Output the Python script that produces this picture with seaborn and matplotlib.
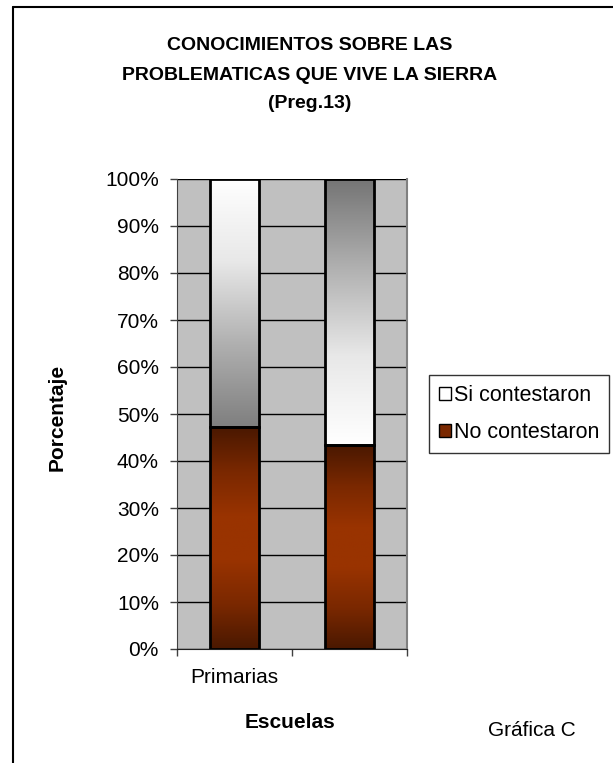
import numpy as np
import pandas as pd
import seaborn as sns
import matplotlib.pyplot as plt
from matplotlib.colors import LinearSegmentedColormap
from matplotlib.patches import Patch
from matplotlib.lines import Line2D
from matplotlib.ticker import PercentFormatter

# data
escuelas = ["Primarias", " "]
no_contestaron = [47.2, 43.3]
si_contestaron = [52.8, 56.7]
yticks = list(range(0, 101, 10))
titulo = ["CONOCIMIENTOS SOBRE LAS", "PROBLEMATICAS QUE VIVE LA SIERRA", "(Preg.13)"]

sns.set_style("ticks")
plt.rcParams["font.family"] = ["Liberation Sans", "DejaVu Sans"]
plt.rcParams["text.color"] = "black"
plt.rcParams["xtick.labelcolor"] = "black"
plt.rcParams["ytick.labelcolor"] = "black"

df = pd.DataFrame({"escuela": escuelas, "no": no_contestaron, "si": si_contestaron})
df["total"] = df["no"] + df["si"]

W, H = 613, 763
fig = plt.figure(figsize=(W / 100, H / 100), dpi=100)
ax = fig.add_axes([177 / W, 1 - 649 / H, 230 / W, 470 / H])
ax.set_facecolor("#C0C0C0")

sns.barplot(data=df, x="escuela", y="total", width=0.42, color="white",
            edgecolor="black", linewidth=2, errorbar=None, ax=ax, zorder=3)
sns.barplot(data=df, x="escuela", y="no", width=0.42, color="#993300",
            edgecolor="black", linewidth=2, errorbar=None, ax=ax, zorder=3)

si_bars = ax.patches[:2]
no_bars = ax.patches[2:4]

grad = np.linspace(0, 1, 256).reshape(-1, 1)
si_cmaps = [LinearSegmentedColormap.from_list("si1", ["#7F7F7F", "#B0B0B0", "#E8E8E8", "#FFFFFF"]),
            LinearSegmentedColormap.from_list("si2", ["#FFFFFF", "#E8E8E8", "#B0B0B0", "#747474"])]
no_cmap = LinearSegmentedColormap.from_list("no", ["#4A1800", "#7A2800", "#993300", "#993300", "#7A2800", "#4A1800"])

for i, p in enumerate(si_bars):
    p.set_y(df["no"][i])
    p.set_height(df["si"][i])
for bars, cmaps in [(si_bars, si_cmaps), (no_bars, [no_cmap, no_cmap])]:
    for p, cm in zip(bars, cmaps):
        x0, y0, w, h = p.get_x(), p.get_y(), p.get_width(), p.get_height()
        im = ax.imshow(grad, extent=[x0, x0 + w, y0, y0 + h], origin="lower",
                       aspect="auto", cmap=cm, zorder=2.5)
        im.set_clip_path(p)
        p.set_facecolor("none")
        p.set_zorder(4)

ax.set_xlim(-0.5, 1.5)
ax.set_ylim(0, 100)
ax.set_yticks(yticks)
ax.yaxis.set_major_formatter(PercentFormatter(decimals=0))
ax.set_xticks([-0.5, 0.5, 1.5], labels=[])
ax.set_xticks([0, 1], labels=escuelas, minor=True)
ax.tick_params(axis="x", which="minor", length=0, pad=14, labelsize=15)
ax.tick_params(axis="x", which="major", length=5, width=1, color="#404040")
ax.tick_params(axis="y", length=5, width=1, color="#404040", pad=8, labelsize=15)
ax.yaxis.grid(True, color="black", linewidth=1)
ax.set_axisbelow(True)
ax.set_xlabel("")
ax.set_ylabel("")
ax.spines["top"].set_visible(False)
ax.spines["right"].set_color("#808080")
ax.spines["right"].set_linewidth(1.5)
ax.spines["left"].set_color("#404040")
ax.spines["bottom"].set_color("#202020")

for line, yy in zip(titulo, [45, 75, 104]):
    fig.text(310 / W, 1 - yy / H, line, ha="center", va="center",
             fontsize=14, fontweight="bold")
fig.text(57 / W, 1 - 417 / H, "Porcentaje", rotation=90, ha="center", va="center",
         fontsize=15, fontweight="bold")
fig.text(290 / W, 1 - 722 / H, "Escuelas", ha="center", va="center",
         fontsize=15, fontweight="bold")
fig.text(532 / W, 1 - 730 / H, "Gráfica C", ha="center", va="center", fontsize=15)

handles = [Patch(facecolor="white", edgecolor="black", label="Si contestaron"),
           Patch(facecolor="#7A2800", edgecolor="black", label="No contestaron")]
leg = fig.legend(handles=handles, loc="upper left", bbox_to_anchor=(429 / W, 1 - 375 / H),
                 fontsize=15.5, frameon=True, fancybox=False, edgecolor="black",
                 handlelength=0.55, handleheight=0.55, handletextpad=0.15,
                 labelspacing=0.75, borderpad=0.45, borderaxespad=0)
leg.get_frame().set_linewidth(1)

fig.add_artist(Line2D([13 / W, 13 / W], [0, 1 - 7 / H], color="black", lw=1.5))
fig.add_artist(Line2D([13 / W, 1], [1 - 7 / H, 1 - 7 / H], color="black", lw=1.5))

fig.savefig("out.png", dpi=100)
